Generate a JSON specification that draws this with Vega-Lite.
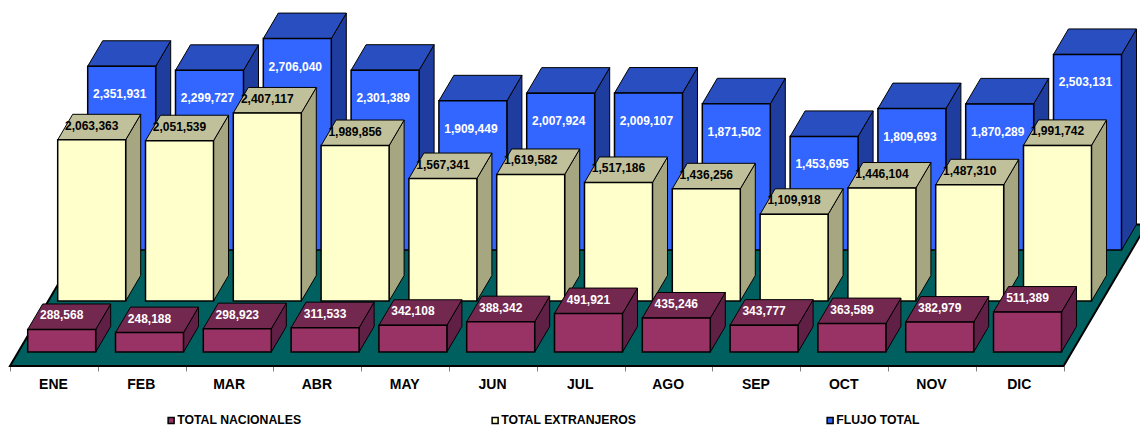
{"$schema":"https://vega.github.io/schema/vega-lite/v6.json","width":1140,"height":366,"autosize":{"type":"none"},"padding":{"left":0,"top":0,"right":0,"bottom":61},"background":"white","view":{"stroke":null},"config":{"font":"Liberation Sans"},
"datasets":{"flujo":[
{"mes":"ENE","serie":"TOTAL NACIONALES","valor":288568},{"mes":"FEB","serie":"TOTAL NACIONALES","valor":248188},{"mes":"MAR","serie":"TOTAL NACIONALES","valor":298923},{"mes":"ABR","serie":"TOTAL NACIONALES","valor":311533},{"mes":"MAY","serie":"TOTAL NACIONALES","valor":342108},{"mes":"JUN","serie":"TOTAL NACIONALES","valor":388342},{"mes":"JUL","serie":"TOTAL NACIONALES","valor":491921},{"mes":"AGO","serie":"TOTAL NACIONALES","valor":435246},{"mes":"SEP","serie":"TOTAL NACIONALES","valor":343777},{"mes":"OCT","serie":"TOTAL NACIONALES","valor":363589},{"mes":"NOV","serie":"TOTAL NACIONALES","valor":382979},{"mes":"DIC","serie":"TOTAL NACIONALES","valor":511389},
{"mes":"ENE","serie":"TOTAL EXTRANJEROS","valor":2063363},{"mes":"FEB","serie":"TOTAL EXTRANJEROS","valor":2051539},{"mes":"MAR","serie":"TOTAL EXTRANJEROS","valor":2407117},{"mes":"ABR","serie":"TOTAL EXTRANJEROS","valor":1989856},{"mes":"MAY","serie":"TOTAL EXTRANJEROS","valor":1567341},{"mes":"JUN","serie":"TOTAL EXTRANJEROS","valor":1619582},{"mes":"JUL","serie":"TOTAL EXTRANJEROS","valor":1517186},{"mes":"AGO","serie":"TOTAL EXTRANJEROS","valor":1436256},{"mes":"SEP","serie":"TOTAL EXTRANJEROS","valor":1109918},{"mes":"OCT","serie":"TOTAL EXTRANJEROS","valor":1446104},{"mes":"NOV","serie":"TOTAL EXTRANJEROS","valor":1487310},{"mes":"DIC","serie":"TOTAL EXTRANJEROS","valor":1991742},
{"mes":"ENE","serie":"FLUJO TOTAL","valor":2351931},{"mes":"FEB","serie":"FLUJO TOTAL","valor":2299727},{"mes":"MAR","serie":"FLUJO TOTAL","valor":2706040},{"mes":"ABR","serie":"FLUJO TOTAL","valor":2301389},{"mes":"MAY","serie":"FLUJO TOTAL","valor":1909449},{"mes":"JUN","serie":"FLUJO TOTAL","valor":2007924},{"mes":"JUL","serie":"FLUJO TOTAL","valor":2009107},{"mes":"AGO","serie":"FLUJO TOTAL","valor":1871502},{"mes":"SEP","serie":"FLUJO TOTAL","valor":1453695},{"mes":"OCT","serie":"FLUJO TOTAL","valor":1809693},{"mes":"NOV","serie":"FLUJO TOTAL","valor":1870289},{"mes":"DIC","serie":"FLUJO TOTAL","valor":2503131}
]},
"data":{"name":"flujo"},
"transform":[
{"calculate":"indexof(['TOTAL NACIONALES','TOTAL EXTRANJEROS','FLUJO TOTAL'],datum.serie)","as":"s"},
{"calculate":"indexof(['ENE','FEB','MAR','ABR','MAY','JUN','JUL','AGO','SEP','OCT','NOV','DIC'],datum.mes)","as":"m"},
{"calculate":"datum.m+0.1078+(0.2745+datum.s)*0.3417","as":"xl"},
{"calculate":"datum.xl+0.7745","as":"xr"},
{"calculate":"(datum.xl+datum.xr)/2","as":"xc"},
{"calculate":"(0.2745+datum.s)*652800","as":"yb"},
{"calculate":"datum.yb+datum.valor","as":"yt"},
{"calculate":"[0,1]","as":"t"},
{"flatten":["t"]},
{"calculate":"datum.xr+datum.t*0.1708","as":"sx"},
{"calculate":"datum.yb+datum.t*326400","as":"sb"},
{"calculate":"datum.yt+datum.t*326400","as":"st"},
{"calculate":"datum.xl+datum.t*0.1708","as":"tl"},
{"calculate":"datum.xr+datum.t*0.1708","as":"tr"},
{"calculate":"datum.t*2.7745*0.3417","as":"fl"},
{"calculate":"12+datum.fl","as":"fr"},
{"calculate":"datum.t*2.7745*652800","as":"fy"}
],
"layer":[
{"transform":[{"filter":"datum.s==0&&datum.m==0"}],"mark":{"type":"area","orient":"horizontal","color":"#006060","stroke":"black","strokeWidth":2},"encoding":{
"y":{"field":"fy","type":"quantitative","scale":{"domain":[0,4684800],"nice":false,"zero":false},"axis":null},
"x":{"field":"fl","type":"quantitative","scale":{"domain":[-0.1139,12.8702],"nice":false,"zero":false},"title":null,"axis":{"title":null,"grid":false,"domain":false,"values":[0,1,2,3,4,5,6,7,8,9,10,11,12],"labelExpr":"['ENE','FEB','MAR','ABR','MAY','JUN','JUL','AGO','SEP','OCT','NOV','DIC',''][datum.value]","labelOffset":43,"labelFont":"Liberation Sans","labelFontWeight":"bold","labelFontSize":14,"labelColor":"black","labelPadding":6,"tickColor":"#808080","tickSize":5,"labelFlush":false,"labelOverlap":false}},
"x2":{"field":"fr"}}},

{"transform":[{"filter":"datum.s==2"}],"mark":{"type":"area","color":"#1F3D9F","stroke":"black","strokeWidth":1},"encoding":{"x":{"field":"sx","type":"quantitative","scale":{"domain":[-0.1139,12.8702],"nice":false,"zero":false}},"y":{"field":"sb","type":"quantitative","scale":{"domain":[0,4684800],"nice":false,"zero":false}},"y2":{"field":"st"},"detail":{"field":"mes"}}},
{"transform":[{"filter":"datum.s==2"}],"mark":{"type":"area","orient":"horizontal","color":"#284EC0","stroke":"black","strokeWidth":1},"encoding":{"y":{"field":"st","type":"quantitative","scale":{"domain":[0,4684800],"nice":false,"zero":false}},"x":{"field":"tl","type":"quantitative","scale":{"domain":[-0.1139,12.8702],"nice":false,"zero":false}},"x2":{"field":"tr"},"detail":{"field":"mes"}}},
{"transform":[{"filter":"datum.s==2&&datum.t==0"}],"mark":{"type":"rect","stroke":"black","strokeWidth":1.5},"encoding":{"x":{"field":"xl","type":"quantitative","scale":{"domain":[-0.1139,12.8702],"nice":false,"zero":false}},"x2":{"field":"xr"},"y":{"field":"yb","type":"quantitative","scale":{"domain":[0,4684800],"nice":false,"zero":false}},"y2":{"field":"yt"},"color":{"field":"serie","type":"nominal","scale":{"domain":["TOTAL NACIONALES","TOTAL EXTRANJEROS","FLUJO TOTAL"],"range":["#993366","#FFFFCC","#3366FF"]},"legend":{"title":null,"orient":"none","legendX":165,"legendY":414,"direction":"horizontal","columns":3,"columnPadding":187,"symbolType":"square","symbolSize":36,"symbolStrokeColor":"black","symbolStrokeWidth":1.5,"labelFont":"Liberation Sans","labelFontWeight":"bold","labelFontSize":12.25,"labelColor":"black","labelOffset":0,"labelLimit":300}}}},
{"transform":[{"filter":"datum.s==2&&datum.t==0"}],"mark":{"type":"text","color":"white","font":"Liberation Sans","fontWeight":"bold","fontSize":12,"dx":-2,"dy":28},"encoding":{"x":{"field":"xc","type":"quantitative","scale":{"domain":[-0.1139,12.8702],"nice":false,"zero":false}},"y":{"field":"yt","type":"quantitative","scale":{"domain":[0,4684800],"nice":false,"zero":false}},"text":{"field":"valor","type":"quantitative","format":","}}},

{"transform":[{"filter":"datum.s==1"}],"mark":{"type":"area","color":"#A6A680","stroke":"black","strokeWidth":1},"encoding":{"x":{"field":"sx","type":"quantitative","scale":{"domain":[-0.1139,12.8702],"nice":false,"zero":false}},"y":{"field":"sb","type":"quantitative","scale":{"domain":[0,4684800],"nice":false,"zero":false}},"y2":{"field":"st"},"detail":{"field":"mes"}}},
{"transform":[{"filter":"datum.s==1"}],"mark":{"type":"area","orient":"horizontal","color":"#C0C09A","stroke":"black","strokeWidth":1},"encoding":{"y":{"field":"st","type":"quantitative","scale":{"domain":[0,4684800],"nice":false,"zero":false}},"x":{"field":"tl","type":"quantitative","scale":{"domain":[-0.1139,12.8702],"nice":false,"zero":false}},"x2":{"field":"tr"},"detail":{"field":"mes"}}},
{"transform":[{"filter":"datum.s==1&&datum.t==0"}],"mark":{"type":"rect","stroke":"black","strokeWidth":1.5},"encoding":{"x":{"field":"xl","type":"quantitative","scale":{"domain":[-0.1139,12.8702],"nice":false,"zero":false}},"x2":{"field":"xr"},"y":{"field":"yb","type":"quantitative","scale":{"domain":[0,4684800],"nice":false,"zero":false}},"y2":{"field":"yt"},"color":{"field":"serie","type":"nominal"}}},
{"transform":[{"filter":"datum.s==1&&datum.t==0"}],"mark":{"type":"text","color":"black","font":"Liberation Sans","fontWeight":"bold","fontSize":12,"dy":-14},"encoding":{"x":{"field":"xc","type":"quantitative","scale":{"domain":[-0.1139,12.8702],"nice":false,"zero":false}},"y":{"field":"yt","type":"quantitative","scale":{"domain":[0,4684800],"nice":false,"zero":false}},"text":{"field":"valor","type":"quantitative","format":","}}},

{"transform":[{"filter":"datum.s==0"}],"mark":{"type":"area","color":"#602045","stroke":"black","strokeWidth":1},"encoding":{"x":{"field":"sx","type":"quantitative","scale":{"domain":[-0.1139,12.8702],"nice":false,"zero":false}},"y":{"field":"sb","type":"quantitative","scale":{"domain":[0,4684800],"nice":false,"zero":false}},"y2":{"field":"st"},"detail":{"field":"mes"}}},
{"transform":[{"filter":"datum.s==0"}],"mark":{"type":"area","orient":"horizontal","color":"#732850","stroke":"black","strokeWidth":1},"encoding":{"y":{"field":"st","type":"quantitative","scale":{"domain":[0,4684800],"nice":false,"zero":false}},"x":{"field":"tl","type":"quantitative","scale":{"domain":[-0.1139,12.8702],"nice":false,"zero":false}},"x2":{"field":"tr"},"detail":{"field":"mes"}}},
{"transform":[{"filter":"datum.s==0&&datum.t==0"}],"mark":{"type":"rect","stroke":"black","strokeWidth":1.5},"encoding":{"x":{"field":"xl","type":"quantitative","scale":{"domain":[-0.1139,12.8702],"nice":false,"zero":false}},"x2":{"field":"xr"},"y":{"field":"yb","type":"quantitative","scale":{"domain":[0,4684800],"nice":false,"zero":false}},"y2":{"field":"yt"},"color":{"field":"serie","type":"nominal"}}},
{"transform":[{"filter":"datum.s==0&&datum.t==0"}],"mark":{"type":"text","color":"white","font":"Liberation Sans","fontWeight":"bold","fontSize":12,"dy":-14},"encoding":{"x":{"field":"xc","type":"quantitative","scale":{"domain":[-0.1139,12.8702],"nice":false,"zero":false}},"y":{"field":"yt","type":"quantitative","scale":{"domain":[0,4684800],"nice":false,"zero":false}},"text":{"field":"valor","type":"quantitative","format":","}}}
]}
